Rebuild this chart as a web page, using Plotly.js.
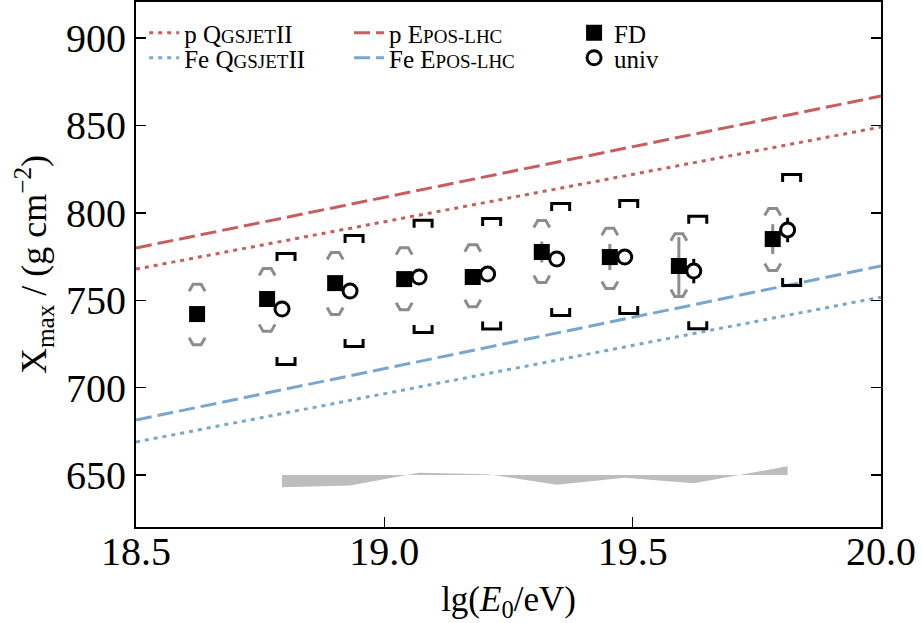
<!DOCTYPE html>
<html>
<head>
<meta charset="utf-8">
<script src="https://cdn.plot.ly/plotly-3.0.1.min.js"></script>
<style>html,body{margin:0;padding:0;background:#fff;}#chart{width:922px;height:623px;}</style>
</head>
<body>
<div id="chart"></div>
<script>
// ---- data ----
const modelE   = [18.5, 20.0];
const pQgsjet  = [767.8, 849.1];
const pEpos    = [779.9, 866.8];
const feQgsjet = [668.9, 751.8];
const feEpos   = [681.5, 769.6];

const fdE      = [18.623, 18.764, 18.901, 19.040, 19.178, 19.317, 19.454, 19.593, 19.782];
const fdX      = [742.1, 750.7, 759.8, 762.1, 763.3, 777.6, 774.7, 769.6, 785.0];
const fdStat   = [3.5, 3.5, 3.5, 3.5, 3.5, 6.0, 7.5, 16.5, 8.5];
const fdSysUp  = [17.0, 17.5, 17.5, 18.0, 18.5, 18.0, 16.5, 18.5, 17.5];
const fdSysDn  = [17.5, 18.5, 18.0, 17.5, 17.0, 17.5, 18.0, 17.5, 18.0];

const univE     = [18.794, 18.931, 19.070, 19.208, 19.347, 19.484, 19.623, 19.812];
const univX     = [745.0, 755.3, 763.3, 765.0, 773.6, 774.7, 766.7, 790.2];
const univStat  = [4.0, 4.0, 4.0, 4.0, 4.0, 4.0, 7.0, 7.0];
const univSysUp = [31.8, 31.8, 32.5, 31.8, 31.8, 32.3, 31.3, 31.8];
const univSysDn = [31.8, 31.8, 31.8, 31.5, 32.3, 32.3, 33.0, 31.8];

const bandBase  = 650;
const bandDiff  = [-6.9, -5.9, 1.3, 0.5, -5.5, -1.5, -4.7, 5.0];

// ---- styling ----
const W = 922, H = 623, M = {l:136, r:41, t:2, b:96};
const xRange = [18.5, 20.0], yRange = [620.3, 920.6];
const pxX = (xRange[1]-xRange[0])/(W-M.l-M.r);
const pxY = (yRange[1]-yRange[0])/(H-M.t-M.b);
const RED = '#c95d5d', BLUE = '#77a6cf', GREY = '#8c8c8c';
const FONT = 'Liberation Serif';
const sc = s => '<span style="font-size:19px">' + s + '</span>';

// chevrons (FD systematics) built from data
const chevX = [], chevY = [];
fdE.forEach((e, i) => {
  const hw = 8*pxX, fw = 4*pxX, h = 7*pxY;
  const up = fdX[i] + fdSysUp[i], dn = fdX[i] - fdSysDn[i];
  chevX.push(e-hw, e-fw, e+fw, e+hw, null, e-hw, e-fw, e+fw, e+hw, null);
  chevY.push(up-h, up, up, up-h, null, dn+h, dn, dn, dn+h, null);
});
// brackets (univ systematics) built from data
const brX = [], brY = [];
univE.forEach((e, i) => {
  const c = e + 4*pxX, hw = 9*pxX, h = 7.5*pxY;
  const up = univX[i] + univSysUp[i], dn = univX[i] - univSysDn[i];
  brX.push(c-hw, c-hw, c+hw, c+hw, null, c-hw, c-hw, c+hw, c+hw, null);
  brY.push(up-h, up, up, up-h, null, dn+h, dn, dn, dn+h, null);
});

const traces = [
  {x: modelE, y: pQgsjet, mode: 'lines', name: 'p Q' + sc('GSJET') + 'II', legend: 'legend',
   line: {color: RED, width: 3, dash: '4px,5px'}},
  {x: modelE, y: feQgsjet, mode: 'lines', name: 'Fe Q' + sc('GSJET') + 'II', legend: 'legend2',
   line: {color: BLUE, width: 3, dash: '4px,5px'}},
  {x: modelE, y: pEpos, mode: 'lines', name: 'p E' + sc('POS-LHC'), legend: 'legend3',
   line: {color: RED, width: 3, dash: '16px,6px'}},
  {x: modelE, y: feEpos, mode: 'lines', name: 'Fe E' + sc('POS-LHC'), legend: 'legend4',
   line: {color: BLUE, width: 3, dash: '16px,6px'}},
  {x: univE, y: univE.map(() => bandBase), mode: 'lines', line: {width: 0}, showlegend: false, hoverinfo: 'skip'},
  {x: univE, y: bandDiff.map(d => bandBase + d), mode: 'lines', fill: 'tonexty', fillcolor: '#bdbdbd',
   line: {width: 0}, showlegend: false, hoverinfo: 'skip'},
  {x: chevX, y: chevY, mode: 'lines', line: {color: GREY, width: 3}, showlegend: false, connectgaps: false, hoverinfo: 'skip'},
  {x: brX, y: brY, mode: 'lines', line: {color: '#000', width: 3}, showlegend: false, connectgaps: false, hoverinfo: 'skip'},
  {x: fdE, y: fdX, mode: 'markers', name: 'FD', legend: 'legend5',
   marker: {symbol: 'square', size: 16, color: '#000', line: {width: 0}},
   error_y: {type: 'data', array: fdStat, visible: true, color: GREY, thickness: 3, width: 0}},
  {x: univE, y: univX, mode: 'markers', name: 'univ', legend: 'legend6',
   marker: {symbol: 'circle', size: 14, color: '#fff', line: {color: '#000', width: 3}},
   error_y: {type: 'data', array: univStat, visible: true, color: '#000', thickness: 3, width: 0}}
];

const legBase = {yanchor: 'middle', xanchor: 'left', bgcolor: 'rgba(0,0,0,0)', borderwidth: 0,
  font: {family: FONT, size: 25, color: '#000'}, tracegroupgap: 0, itemwidth: 30, traceorder: 'normal'};
const row1 = 1 - (33 - M.t)/(H - M.t - M.b), row2 = 1 - (58 - M.t)/(H - M.t - M.b);
const L = (x, y) => Object.assign({}, legBase, {x: x, y: y});

const layout = {
  width: W, height: H, margin: M,
  paper_bgcolor: '#fff', plot_bgcolor: '#fff',
  font: {family: FONT, color: '#000'},
  showlegend: true,
  legend:  L(0.011, row1), legend2: L(0.011, row2),
  legend3: L(0.286, row1), legend4: L(0.286, row2),
  legend5: L(0.588, row1), legend6: L(0.588, row2),
  xaxis: {range: xRange, tickvals: [18.5, 19.0, 19.5, 20.0], tickformat: '.1f',
    ticks: 'inside', ticklen: 10, tickwidth: 1.5, tickcolor: '#000', ticklabelstandoff: -12,
    showline: true, linewidth: 2, linecolor: '#000', mirror: true,
    showgrid: false, zeroline: false, tickfont: {family: FONT, size: 40, color: '#000'},
    title: {text: 'lg(<i>E</i><sub>0</sub>/eV)', font: {family: FONT, size: 35, color: '#000'}, standoff: 13}},
  yaxis: {range: yRange, tick0: 650, dtick: 50,
    ticks: 'inside', ticklen: 10, tickwidth: 1.5, tickcolor: '#000',
    showline: true, linewidth: 2, linecolor: '#000', mirror: 'ticks',
    showgrid: false, zeroline: false, tickfont: {family: FONT, size: 40, color: '#000'},
    title: {text: 'X<sub>max</sub> / (g cm<sup>−2</sup>)', font: {family: FONT, size: 36, color: '#000'}, standoff: 8}}
};

Plotly.newPlot('chart', traces, layout, {staticPlot: true, displayModeBar: false});
</script>
</body>
</html>
